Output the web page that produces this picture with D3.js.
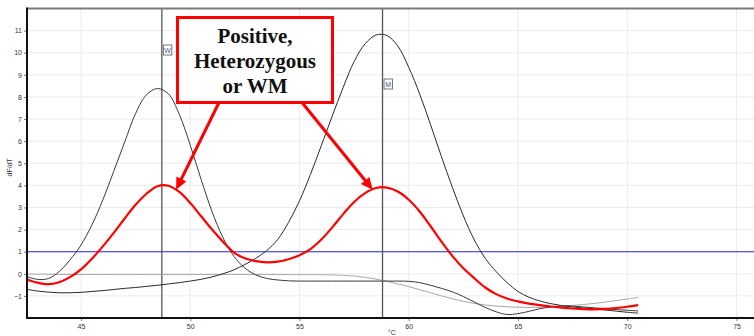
<!DOCTYPE html>
<html>
<head>
<meta charset="utf-8">
<script src="https://cdn.jsdelivr.net/npm/d3@7"></script>
<style>
  body { margin: 0; background: #fff; }
  svg { display: block; }
</style>
</head>
<body>
<div id="chart"></div>
<script>
// melt curve readings, one value per temperature step
const temps = [42.5, 43, 43.5, 44, 44.5, 45, 45.5, 46, 46.5, 47, 47.5, 48, 48.5, 49, 49.5, 50, 50.5, 51, 51.5, 52,
    52.5, 53, 53.5, 54, 54.5, 55, 55.5, 56, 56.5, 57, 57.5, 58, 58.5, 59, 59.5, 60, 60.5, 61, 61.5, 62,
    62.5, 63, 63.5, 64, 64.5, 65, 65.5, 66, 66.5, 67, 67.5, 68, 68.5, 69, 69.5, 70, 70.5];

const wildType = [-0.12, -0.25, -0.22, 0.1, 0.63, 1.3, 2.21, 3.34, 4.64, 5.96, 7.25, 8.1, 8.38, 8.14, 7.21, 5.82, 4.26, 2.81, 1.63, 0.79,
    0.26, -0.05, -0.21, -0.28, -0.32, -0.33, -0.33, -0.33, -0.33, -0.33, -0.33, -0.33, -0.33, -0.33, -0.33, -0.34, -0.4, -0.52, -0.66, -0.82,
    -1.03, -1.28, -1.52, -1.72, -1.84, -1.8, -1.7, -1.58, -1.5, -1.45, -1.46, -1.5, -1.54, -1.58, -1.62, -1.65, -1.68];

const mutant = [-0.7, -0.78, -0.83, -0.86, -0.86, -0.84, -0.8, -0.76, -0.71, -0.66, -0.62, -0.57, -0.52, -0.46, -0.4, -0.33, -0.25, -0.14, 0.0, 0.18,
    0.42, 0.7, 1.05, 1.55, 2.33, 3.3, 4.49, 5.8, 7.14, 8.43, 9.6, 10.4, 10.8, 10.78, 10.3, 9.34, 8.13, 6.74, 5.29, 3.9,
    2.62, 1.53, 0.7, 0.1, -0.4, -0.8, -1.06, -1.23, -1.35, -1.44, -1.5, -1.55, -1.59, -1.64, -1.69, -1.74, -1.78];

const heterozygous = [-0.25, -0.4, -0.47, -0.38, -0.15, 0.2, 0.68, 1.24, 1.85, 2.5, 3.12, 3.62, 3.96, 3.98, 3.7, 3.2, 2.6, 2.0, 1.45, 0.96,
    0.7, 0.57, 0.52, 0.55, 0.66, 0.84, 1.12, 1.55, 2.1, 2.7, 3.25, 3.65, 3.88, 3.9, 3.72, 3.35, 2.82, 2.15, 1.45, 0.8,
    0.25, -0.2, -0.62, -0.92, -1.12, -1.25, -1.35, -1.42, -1.48, -1.53, -1.57, -1.6, -1.61, -1.59, -1.55, -1.49, -1.42];

const noTemplate = [-0.02, -0.02, -0.02, -0.03, -0.03, -0.03, -0.03, -0.03, -0.03, -0.03, -0.03, -0.03, -0.03, -0.03, -0.03, -0.03, -0.03, -0.03, -0.03, -0.03,
    -0.03, -0.03, -0.03, -0.03, -0.04, -0.04, -0.04, -0.04, -0.05, -0.07, -0.1, -0.16, -0.24, -0.34, -0.46, -0.58, -0.72, -0.86, -1.0, -1.13,
    -1.25, -1.34, -1.41, -1.46, -1.49, -1.51, -1.52, -1.52, -1.5, -1.47, -1.43, -1.39, -1.34, -1.28, -1.21, -1.14, -1.07];

const xTicks = [45, 50, 55, 60, 65, 70, 75];
const yTicks = [-1, 0, 1, 2, 3, 4, 5, 6, 7, 8, 9, 10, 11];
const threshold = 1;
const markerTemps = [48.7, 58.8];
const markerLabels = ["W", "M"];
const calloutLines = ["Positive,", "Heterozygous", "or WM"];
const calloutTargets = [[49.35, 3.8], [58.35, 3.8]];

const width = 754, height = 336;
const margin = { top: 8.5, right: 0, bottom: 18, left: 27 };

const svg = d3.select("#chart").append("svg")
    .attr("width", width)
    .attr("height", height)
    .style("font-family", "'Liberation Sans', Arial, sans-serif");

const x = d3.scaleLinear()
    .domain([42.53, 75.8])
    .range([margin.left, width - margin.right]);

const y = d3.scaleLinear()
    .domain([-2, 12])
    .range([height - margin.bottom, margin.top]);

svg.append("clipPath").attr("id", "plot-clip")
    .append("rect")
    .attr("x", margin.left)
    .attr("y", margin.top)
    .attr("width", width - margin.left)
    .attr("height", height - margin.bottom - margin.top);

// grid
svg.append("g")
    .selectAll("line")
    .data(yTicks)
    .join("line")
    .attr("x1", margin.left).attr("x2", width)
    .attr("y1", d => y(d)).attr("y2", d => y(d))
    .attr("stroke", "#ececec");

svg.append("g")
    .selectAll("line")
    .data(xTicks)
    .join("line")
    .attr("x1", d => x(d)).attr("x2", d => x(d))
    .attr("y1", margin.top).attr("y2", height - margin.bottom)
    .attr("stroke", "#ececec");

// threshold line
svg.append("line")
    .attr("x1", margin.left).attr("x2", width)
    .attr("y1", y(threshold)).attr("y2", y(threshold))
    .attr("stroke", "#2a2ad8")
    .attr("stroke-width", 1.1);

// marker lines
svg.append("g")
    .selectAll("line")
    .data(markerTemps)
    .join("line")
    .attr("x1", d => x(d)).attr("x2", d => x(d))
    .attr("y1", margin.top).attr("y2", height - margin.bottom)
    .attr("stroke", "#555")
    .attr("stroke-width", 1.3);

// curves
const line = d3.line()
    .x((d, i) => x(temps[i]))
    .y(d => y(d))
    .curve(d3.curveCatmullRom);

const curves = svg.append("g").attr("clip-path", "url(#plot-clip)");

const series = [
    { values: noTemplate, color: "#a8a8a8", w: 1 },
    { values: mutant, color: "#2a2a2a", w: 1 },
    { values: wildType, color: "#3a3a3a", w: 1 },
    { values: heterozygous, color: "#ff0000", w: 2.2 }
];

curves.selectAll("path")
    .data(series)
    .join("path")
    .attr("d", d => line(d.values))
    .attr("fill", "none")
    .attr("stroke", d => d.color)
    .attr("stroke-width", d => d.w);

// axes
const yAxis = svg.append("g")
    .attr("transform", `translate(${margin.left},0)`)
    .call(d3.axisLeft(y).tickValues(yTicks).tickSize(3).tickPadding(2));

const xAxis = svg.append("g")
    .attr("transform", `translate(0,${height - margin.bottom})`)
    .call(d3.axisBottom(x).tickValues(xTicks).tickSize(3).tickPadding(3));

[yAxis, xAxis].forEach(a => {
    a.select(".domain").remove();
    a.selectAll("line").attr("stroke", "#777");
    a.selectAll("text").attr("fill", "#333").style("font-size", "7px");
});

// frame
svg.append("line")
    .attr("x1", margin.left).attr("x2", width)
    .attr("y1", margin.top).attr("y2", margin.top)
    .attr("stroke", "#7a7a7a").attr("stroke-width", 2);

svg.append("line")
    .attr("x1", margin.left).attr("x2", margin.left)
    .attr("y1", margin.top - 1).attr("y2", height - margin.bottom + 1)
    .attr("stroke", "#111").attr("stroke-width", 2);

svg.append("line")
    .attr("x1", margin.left).attr("x2", width)
    .attr("y1", height - margin.bottom).attr("y2", height - margin.bottom)
    .attr("stroke", "#111").attr("stroke-width", 2);

// axis titles
svg.append("text")
    .attr("transform", `translate(12,${(margin.top + height - margin.bottom) / 2 + 4}) rotate(-90)`)
    .attr("text-anchor", "middle")
    .attr("fill", "#333")
    .style("font-size", "7px")
    .text("dF/dT");

svg.append("text")
    .attr("x", 392).attr("y", 335)
    .attr("text-anchor", "middle")
    .attr("fill", "#333")
    .style("font-size", "7px")
    .text("°C");

// marker tags
const tagY = [45, 79];
const tags = svg.append("g")
    .selectAll("g")
    .data(markerTemps)
    .join("g")
    .attr("transform", (d, i) => `translate(${x(d) + 1.5},${tagY[i]})`);

tags.append("rect")
    .attr("width", 8.5).attr("height", 10)
    .attr("fill", "#fff")
    .attr("stroke", "#555")
    .attr("stroke-width", 0.8);

tags.append("text")
    .attr("x", 4.25).attr("y", 7.6)
    .attr("text-anchor", "middle")
    .attr("fill", "#3b5d8f")
    .style("font-size", "7px")
    .text((d, i) => markerLabels[i]);

// callout
const box = { x: 177.5, y: 17.5, w: 155, h: 85 };

const arrowStarts = [[219, box.y + box.h], [302, box.y + box.h]];
const arrows = svg.append("g");
calloutTargets.forEach((t, i) => {
    const [sx, sy] = arrowStarts[i];
    const tx = x(t[0]), ty = y(t[1]);
    const ang = Math.atan2(ty - sy, tx - sx);
    const headLen = 12, headHalf = 5.5;
    const bx = tx - headLen * Math.cos(ang), by = ty - headLen * Math.sin(ang);
    arrows.append("line")
        .attr("x1", sx).attr("y1", sy)
        .attr("x2", bx + 2 * Math.cos(ang)).attr("y2", by + 2 * Math.sin(ang))
        .attr("stroke", "#ff0000")
        .attr("stroke-width", 3);
    const px = -Math.sin(ang), py = Math.cos(ang);
    arrows.append("path")
        .attr("d", `M${tx},${ty}L${bx + px * headHalf},${by + py * headHalf}L${bx - px * headHalf},${by - py * headHalf}Z`)
        .attr("fill", "#ff0000");
});

svg.append("rect")
    .attr("x", box.x).attr("y", box.y)
    .attr("width", box.w).attr("height", box.h)
    .attr("fill", "#fff")
    .attr("stroke", "#ff0000")
    .attr("stroke-width", 3);

svg.append("g")
    .selectAll("text")
    .data(calloutLines)
    .join("text")
    .attr("x", box.x + box.w / 2)
    .attr("y", (d, i) => 43 + i * 25)
    .attr("text-anchor", "middle")
    .attr("fill", "#111")
    .style("font-family", "'Liberation Serif', 'Times New Roman', serif")
    .style("font-weight", "bold")
    .style("font-size", "21px")
    .text(d => d);
</script>
</body>
</html>
